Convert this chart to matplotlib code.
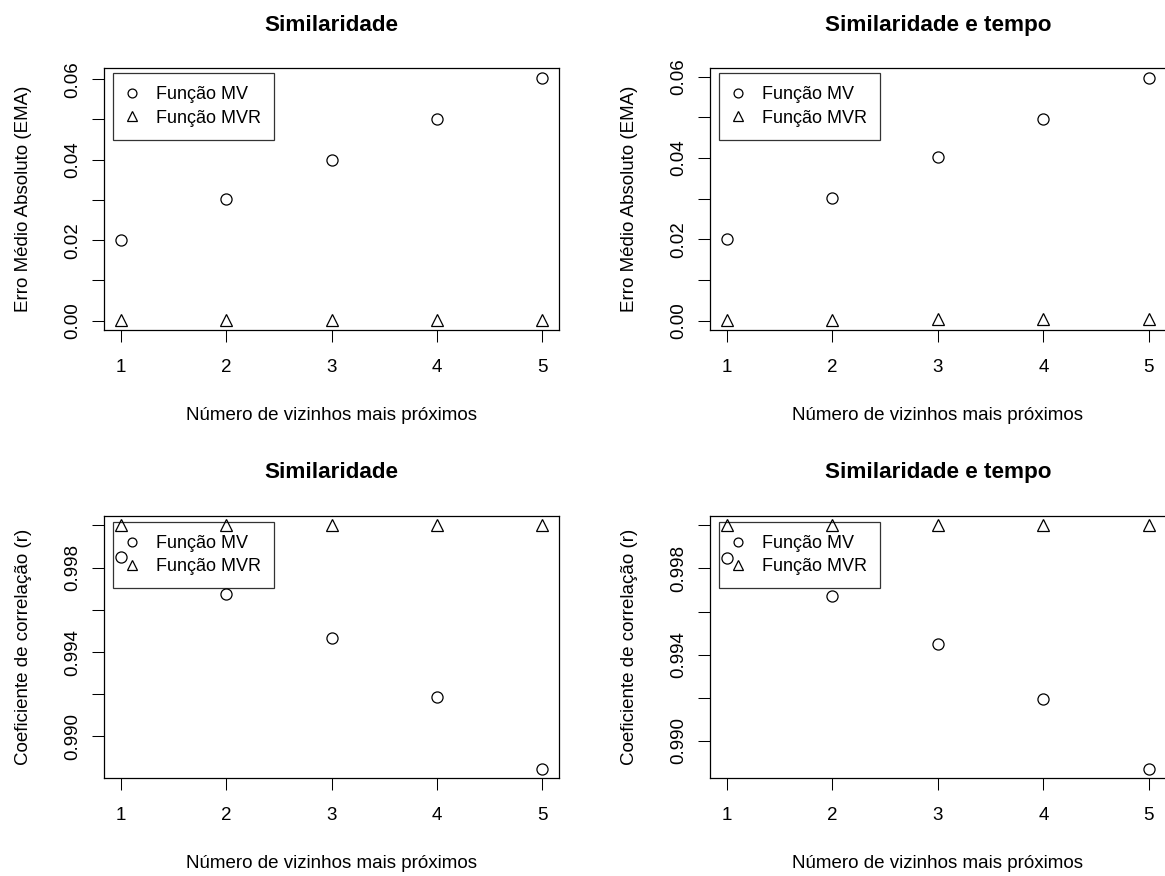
import matplotlib
matplotlib.use("Agg")
import matplotlib.pyplot as plt
import numpy as np

plt.rcParams['font.family'] = ['Liberation Sans', 'DejaVu Sans']

# ---- data ----
vizinhos = [1, 2, 3, 4, 5]
titles = ["Similaridade", "Similaridade e tempo"]
series_labels = ["Função MV", "Função MVR"]

ema_sim_mv = [0.0201, 0.0302, 0.0399, 0.0502, 0.0603]
ema_sim_mvr = [0.0001, 0.0003, 0.0001, 0.0003, 0.0001]
ema_temp_mv = [0.0200, 0.0302, 0.0402, 0.0497, 0.0597]
ema_temp_mvr = [0.0001, 0.0002, 0.0004, 0.0005, 0.0005]

r_sim_mv = [0.99851, 0.99676, 0.99466, 0.99185, 0.98848]
r_sim_mvr = [1.0000, 1.0000, 1.0000, 1.0000, 1.0000]
r_temp_mv = [0.9985, 0.99674, 0.9945, 0.99194, 0.98871]
r_temp_mvr = [1.0000, 1.0000, 1.0000, 1.0000, 1.0000]

ema_ticks = [0.00, 0.01, 0.02, 0.03, 0.04, 0.05, 0.06]
ema_ticklabels = ["0.00", "", "0.02", "", "0.04", "", "0.06"]
r_ticks = [0.990, 0.992, 0.994, 0.996, 0.998, 1.000]
r_ticklabels = ["0.990", "", "0.994", "", "0.998", ""]

xlabel = "Número de vizinhos mais próximos"
ylabel_ema = "Erro Médio Absoluto (EMA)"
ylabel_r = "Coeficiente de correlação (r)"

FS = 13.5
LFS = 13.0
W, H = 1165, 876
fig = plt.figure(figsize=(W / 100, H / 100), dpi=100)

lefts = [104, 710]
widths = [455.3, 455.8]
tops = [68.3, 515.7]
heights = [261.7, 262.6]

panels = [
    (0, 0, ema_sim_mv, ema_sim_mvr, ylabel_ema, ema_ticks, ema_ticklabels, titles[0]),
    (0, 1, ema_temp_mv, ema_temp_mvr, ylabel_ema, ema_ticks, ema_ticklabels, titles[1]),
    (1, 0, r_sim_mv, r_sim_mvr, ylabel_r, r_ticks, r_ticklabels, titles[0]),
    (1, 1, r_temp_mv, r_temp_mvr, ylabel_r, r_ticks, r_ticklabels, titles[1]),
]

for row, col, mv, mvr, ylab, yt, ytl, title in panels:
    l, w = lefts[col], widths[col]
    t, h = tops[row], heights[row]
    ax = fig.add_axes([l / W, 1 - (t + h) / H, w / W, h / H])
    ax.plot(vizinhos, mv, linestyle='none', marker='o', markersize=8,
            markerfacecolor='none', markeredgecolor='black', markeredgewidth=0.9,
            label=series_labels[0], clip_on=False)
    ax.plot(vizinhos, mvr, linestyle='none', marker='^', markersize=9,
            markerfacecolor='none', markeredgecolor='black', markeredgewidth=0.9,
            label=series_labels[1], clip_on=False)
    allv = np.array(mv + mvr)
    lo, hi = allv.min(), allv.max()
    pad = 0.04 * (hi - lo)
    ax.set_ylim(lo - pad, hi + pad)
    xr = max(vizinhos) - min(vizinhos)
    ax.set_xlim(min(vizinhos) - 0.04 * xr, max(vizinhos) + 0.04 * xr)
    ax.set_xticks(vizinhos)
    ax.set_xticklabels([str(v) for v in vizinhos])
    ax.set_yticks(yt)
    ax.set_yticklabels(ytl, rotation=90, va='center')
    ax.tick_params(axis='both', direction='out', length=8.4, width=0.75,
                   labelsize=FS, color='black')
    ax.tick_params(axis='x', pad=12.5)
    ax.tick_params(axis='y', pad=8)
    for s in ax.spines.values():
        s.set_linewidth(0.9)
        s.set_color('black')
    ax.set_xlabel(xlabel, fontsize=FS)
    ax.xaxis.set_label_coords(0.5, -77 / h)
    ax.set_ylabel(ylab, fontsize=FS)
    ax.yaxis.set_label_coords(-72 / w, 0.5)
    ax.set_title(title, fontsize=FS * 1.2, fontweight='bold', pad=27)
    leg = ax.legend(loc='upper left',
                    bbox_to_anchor=((9.3) / w, 1 - (5 if row == 0 else 6.3) / h),
                    borderaxespad=0, fontsize=LFS, frameon=True, fancybox=False,
                    edgecolor='black', facecolor='none', framealpha=None,
                    borderpad=0.72, labelspacing=0.35, handlelength=0.62,
                    handletextpad=1.0, markerscale=0.8)
    leg.get_frame().set_linewidth(0.9)

fig.savefig("out.png", dpi=100)
